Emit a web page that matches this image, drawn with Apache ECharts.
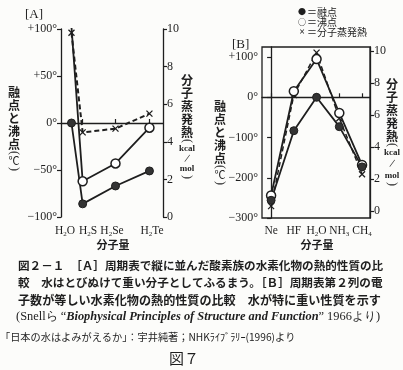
<!DOCTYPE html>
<html><head><meta charset="utf-8">
<script src="https://cdn.jsdelivr.net/npm/echarts@6/dist/echarts.min.js"></script>
<style>html,body{margin:0;padding:0;background:#fcfcfa}#c{width:403px;height:370px}</style>
</head><body><div id="c"></div>
<script>
// ---- data ----
const catsA = ['H2O', 'H2S', 'H2Se', 'H2Te'];
const molWeightA = [18, 34, 81, 129.6];
const meltA = [0, -86, -67, -51];
const boilA = [102, -62, -43, -5];
const heatA = [9.8, 4.5, 4.7, 5.5];

const catsB = ['Ne', 'HF', 'H2O', 'NH3', 'CH4'];
const meltB = [-256, -83, 0, -73, -173];
const boilB = [-244, 15, 95, -39, -168];
const heatB = [0.3, 7.25, 9.9, 5.8, 2.3];

const tempTicksA = [-100, -50, 0, 50, 100];
const tempTicksB = [-300, -200, -100, 0, 100];
const heatTicks = [0, 2, 4, 6, 8, 10];

const INK = '#1e1e1e';
const SERIF = '"Liberation Serif","DejaVu Serif",serif';
const JP = '"Noto Sans CJK JP","Noto Sans CJK SC",sans-serif';
const CROSS = 'path://M0,0L10,10M10,0L0,10';

function subRich(name) {
  return name.replace(/(\d)/g, '}{s|$1}{n|').replace(/^/, '{n|') + '}';
}
const RICH = {
  n: { fontFamily: SERIF, fontSize: 11.5, fill: INK, color: INK, lineHeight: 14 },
  s: { fontFamily: SERIF, fontSize: 7, fill: INK, color: INK, lineHeight: 14, verticalAlign: 'bottom', padding: [3, 0, 0, 0] }
};
function tempFmt(v) {
  if (v > 0) return '+' + v + '°';
  if (v < 0) return '−' + Math.abs(v) + '°';
  return '0°';
}
function axisBase(extra) {
  return Object.assign({
    axisLine: { show: true, lineStyle: { color: INK, width: 1.3 } },
    splitLine: { show: false },
    axisLabel: { color: INK, fontFamily: SERIF, fontSize: 12 },
    axisTick: { show: true, length: 4, lineStyle: { color: INK, width: 1.2 } }
  }, extra);
}

const chart = echarts.init(document.getElementById('c'), null, { renderer: 'canvas' });

const g = [];
function T(x, y, text, o, rot) {
  const st = Object.assign({ text: text, fill: INK, font: '12px ' + JP, align: 'left', verticalAlign: 'middle' }, o || {});
  g.push({ type: 'text', x: x, y: y, rotation: rot || 0, style: st });
}
// stacked vertical label: [text, y, font, rotation]
function V(x, items, font) {
  items.forEach(function (it) { T(x, it[1], it[0], { align: 'center', font: (it[2] || font) }, it[3] || 0); });
}
const P = -Math.PI / 2;
// panel labels
T(25, 15, '[A]', { font: '13px ' + SERIF });
T(232, 45, '[B]', { font: '13px ' + SERIF });
// vertical axis titles A
V(14, [['融', 92], ['点', 105], ['と', 118], ['沸', 131], ['点', 144], ['(', 153, '12px ' + SERIF, P], ['℃', 161, '11px ' + JP], [')', 169, '12px ' + SERIF, P]], 'bold 12px ' + JP);
V(187, [['分', 80], ['子', 93], ['蒸', 106], ['発', 119], ['熱', 132], ['(', 141, '12px ' + SERIF, P], ['kcal', 149, 'bold 9px ' + SERIF], ['/', 159, '12px ' + SERIF, -0.3], ['mol', 169, 'bold 9px ' + SERIF], [')', 177, '12px ' + SERIF, P]], 'bold 12px ' + JP);
// vertical axis titles B
V(220, [['融', 106], ['点', 119], ['と', 132], ['沸', 145], ['点', 158], ['(', 167, '12px ' + SERIF, P], ['℃', 175, '11px ' + JP], [')', 183, '12px ' + SERIF, P]], 'bold 12px ' + JP);
V(392, [['分', 84], ['子', 97], ['蒸', 110], ['発', 123], ['熱', 136], ['(', 145, '12px ' + SERIF, P], ['kcal', 153, 'bold 9px ' + SERIF], ['/', 164, '12px ' + SERIF, -0.3], ['mol', 176, 'bold 9px ' + SERIF], [')', 184, '12px ' + SERIF, P]], 'bold 12px ' + JP);
// x category labels A (placed beside the molecular-weight ticks)
const labelXA = [65, 88, 112, 152];
catsA.forEach(function (c, i) {
  g.push({ type: 'text', x: labelXA[i], y: 231, style: { text: subRich(c), rich: RICH, align: 'center', verticalAlign: 'middle' } });
});
// x titles
T(113, 245, '分子量', { align: 'center', font: 'bold 11px ' + JP });
T(317, 245, '分子量', { align: 'center', font: 'bold 11px ' + JP });
// legend
T(302, 12, '●', { align: 'center', font: '8px ' + JP });
T(302, 22, '○', { align: 'center', font: 'bold 8px ' + JP });
T(302, 32, '×', { align: 'center', font: 'bold 10px ' + SERIF });
T(307, 12, '＝融点', { font: '10px ' + JP });
T(307, 22, '＝沸点', { font: '10px ' + JP });
T(307, 32, '＝分子蒸発熱', { font: '10px ' + JP });
// caption
T(18, 266, '図２－１　［Ａ］周期表で縦に並んだ酸素族の水素化物の熱的性質の比', { font: 'bold 11.6px ' + JP });
T(18, 283, '較　水はとびぬけて重い分子としてふるまう。［Ｂ］周期表第２列の電', { font: 'bold 11.6px ' + JP });
T(18, 300, '子数が等しい水素化物の熱的性質の比較　水が特に重い性質を示す', { font: 'bold 12.1px ' + JP });
g.push({ type: 'text', x: 16, y: 317, style: { text: '{n|(Snellら “}{i|Biophysical Principles of Structure and Function}{n|” 1966より)}',
  verticalAlign: 'middle', fill: INK,
  rich: { n: { font: '12.4px ' + SERIF, fill: INK }, i: { font: 'italic bold 12.4px ' + SERIF, fill: INK } } } });
T(0, 337, '「日本の水はよみがえるか」：宇井純著；NHKﾗｲﾌﾞﾗﾘｰ(1996)より', { font: '10.2px ' + JP });
T(184, 358, '図７', { align: 'center', font: '15px ' + JP });

const lineStyleSolid = { color: INK, width: 1.8 };
const option = {
  backgroundColor: '#fcfcfa',
  animation: false,
  grid: [
    { left: 61, width: 102, top: 29, height: 188, show: false },
    { left: 262, width: 108, top: 47, height: 171, show: true, borderColor: INK, borderWidth: 1.3, backgroundColor: 'transparent' }
  ],
  xAxis: [
    axisBase({ type: 'value', gridIndex: 0, min: 3, max: 149,
      axisTick: { show: true, inside: true, length: 4, customValues: molWeightA, lineStyle: { color: INK, width: 1.2 } },
      axisLabel: { show: false } }),
    axisBase({ type: 'value', gridIndex: 1, min: -0.4, max: 4.35,
      axisTick: { show: true, inside: true, length: 4, customValues: [0, 1, 2, 3, 4], lineStyle: { color: INK, width: 1.2 } },
      axisLabel: { margin: 6, customValues: [0, 1, 2, 3, 4], showMinLabel: true, showMaxLabel: true, hideOverlap: false, rich: RICH,
        formatter: function (v) { return catsB[v] ? subRich(catsB[v]) : ''; } } })
  ],
  yAxis: [
    axisBase({ type: 'value', gridIndex: 0, min: -100, max: 100, position: 'left',
      axisTick: { show: true, length: 4, customValues: tempTicksA, lineStyle: { color: INK, width: 1.2 } },
      axisLabel: { color: INK, fontFamily: SERIF, fontSize: 12, margin: 4, customValues: tempTicksA, formatter: tempFmt } }),
    axisBase({ type: 'value', gridIndex: 0, min: 0, max: 10, position: 'right',
      axisTick: { show: true, length: 4, customValues: heatTicks, lineStyle: { color: INK, width: 1.2 } },
      axisLabel: { color: INK, fontFamily: SERIF, fontSize: 12, margin: 4, customValues: heatTicks } }),
    axisBase({ type: 'value', gridIndex: 1, min: -300, max: 125, position: 'left',
      axisTick: { show: true, length: 4, customValues: tempTicksB, lineStyle: { color: INK, width: 1.2 } },
      axisLabel: { color: INK, fontFamily: SERIF, fontSize: 12, margin: 4, customValues: tempTicksB, formatter: tempFmt } }),
    axisBase({ type: 'value', gridIndex: 1, min: -0.44, max: 10.25, position: 'right',
      axisTick: { show: true, length: 4, customValues: heatTicks, lineStyle: { color: INK, width: 1.2 } },
      axisLabel: { color: INK, fontFamily: SERIF, fontSize: 12, margin: 4, customValues: heatTicks } })
  ],
  series: [
    { type: 'line', xAxisIndex: 0, yAxisIndex: 1, data: molWeightA.map(function (x, i) { return [x, heatA[i]]; }),
      symbol: CROSS, symbolSize: 6, lineStyle: { color: INK, width: 2, type: [5, 3] },
      itemStyle: { color: INK, borderColor: INK, borderWidth: 1.3 }, z: 2 },
    { type: 'line', xAxisIndex: 0, yAxisIndex: 0, data: molWeightA.map(function (x, i) { return [x, boilA[i]]; }),
      symbol: 'circle', symbolSize: 9, lineStyle: lineStyleSolid,
      itemStyle: { color: '#fff', borderColor: INK, borderWidth: 1.5 }, z: 3 },
    { type: 'line', xAxisIndex: 0, yAxisIndex: 0, data: molWeightA.map(function (x, i) { return [x, meltA[i]]; }),
      symbol: 'circle', symbolSize: 8, lineStyle: lineStyleSolid,
      itemStyle: { color: '#333', borderColor: INK, borderWidth: 1 }, z: 3 },
    { type: 'line', xAxisIndex: 1, yAxisIndex: 3, data: heatB.map(function (v, i) { return [i, v]; }),
      symbol: CROSS, symbolSize: 6, lineStyle: { color: INK, width: 1.5, type: [5, 3] },
      itemStyle: { color: INK, borderColor: INK, borderWidth: 1.3 }, z: 2 },
    { type: 'line', xAxisIndex: 1, yAxisIndex: 2, data: boilB.map(function (v, i) { return [i, v]; }),
      symbol: 'circle', symbolSize: 9, lineStyle: lineStyleSolid,
      itemStyle: { color: '#fff', borderColor: INK, borderWidth: 1.5 }, z: 3 },
    { type: 'line', xAxisIndex: 1, yAxisIndex: 2, data: meltB.map(function (v, i) { return [i, v]; }),
      symbol: 'circle', symbolSize: 8, lineStyle: lineStyleSolid,
      itemStyle: { color: '#333', borderColor: INK, borderWidth: 1 }, z: 3 }
  ],
  graphic: g
};
chart.setOption(option);
</script>
</body></html>
